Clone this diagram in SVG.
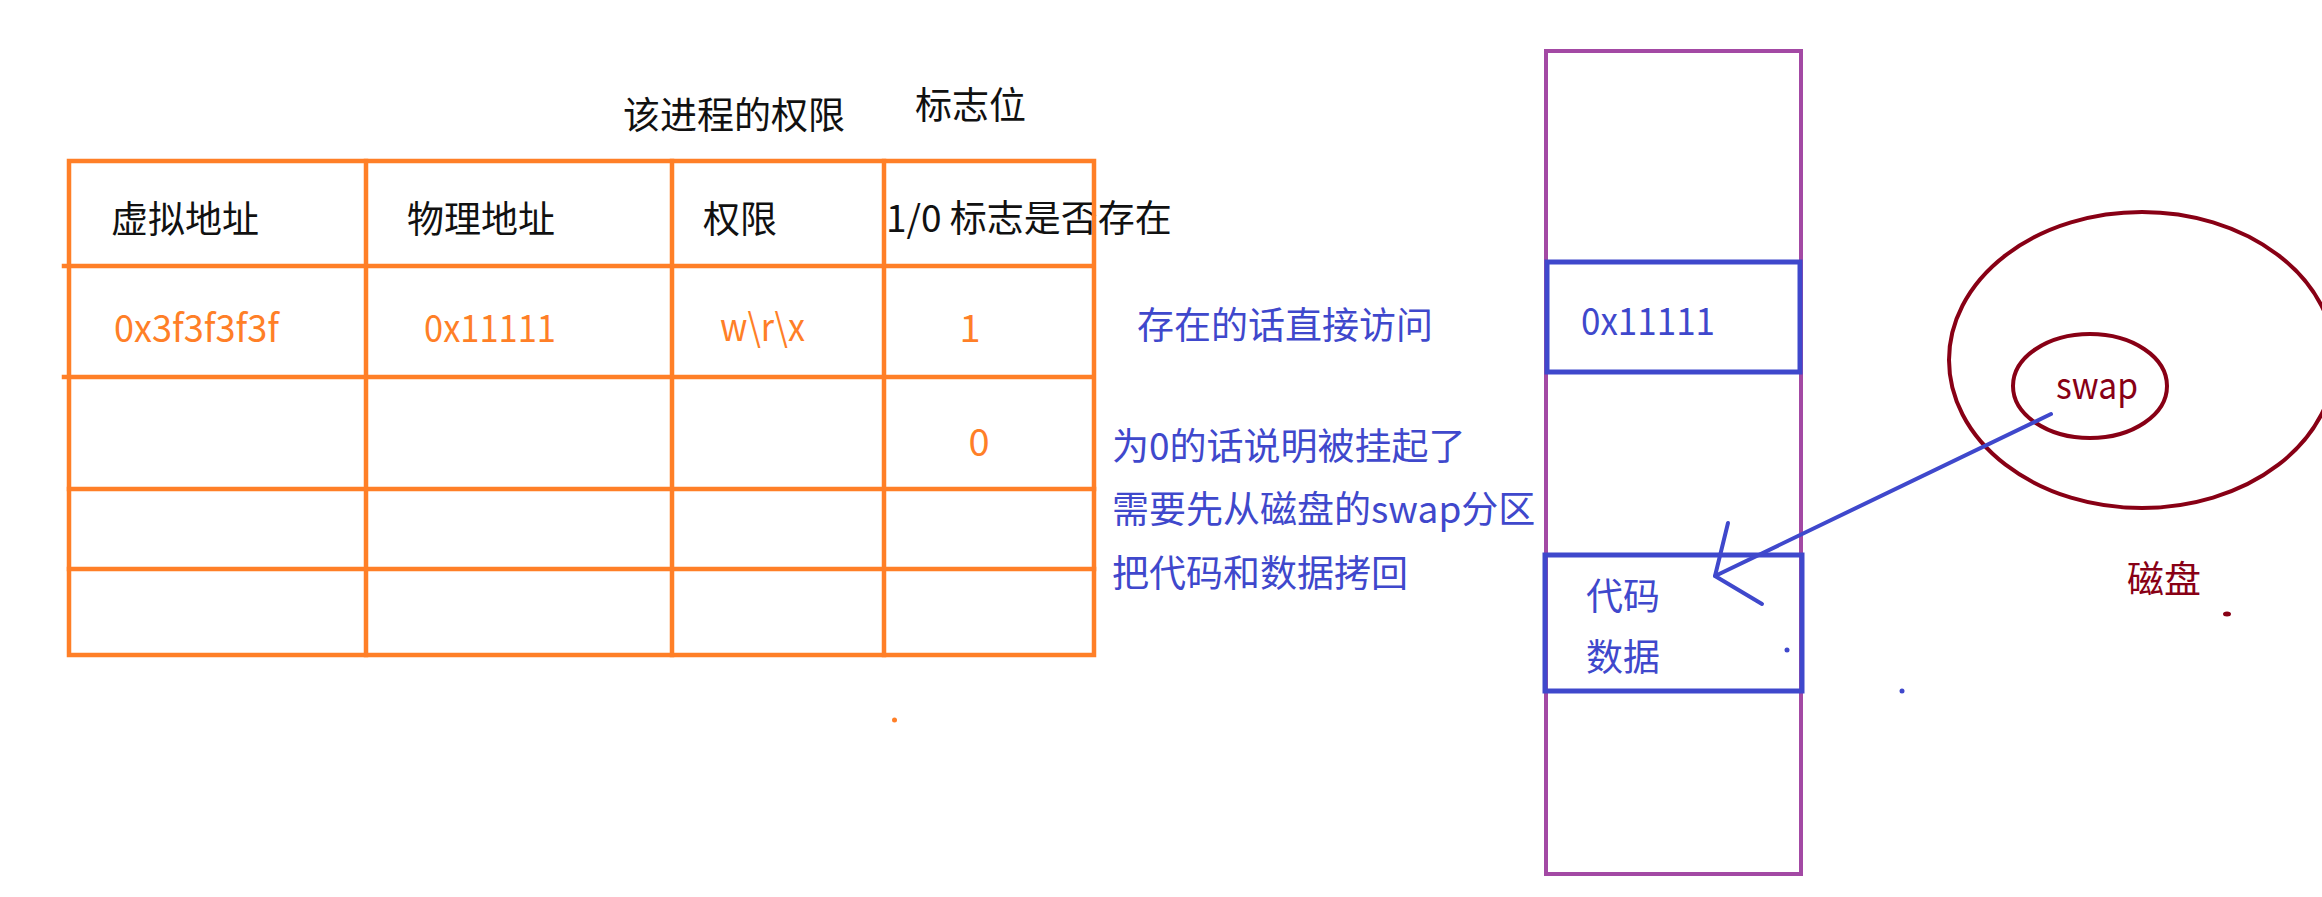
<svg xmlns="http://www.w3.org/2000/svg" width="2322" height="897" viewBox="0 0 2322 897">
<style>
.t{font-family:"Noto Sans CJK SC","Noto Sans",sans-serif;font-size:37px}
.l{font-size:38px}
.k{fill:#111}
.o{fill:#ff7f27}
.b{fill:#3f48cc}
.r{fill:#880015}
.ol{stroke:#ff7f27;stroke-width:4.5;fill:none;stroke-linecap:square}
.bl{stroke:#3f48cc;stroke-width:5;fill:none}
.rl{stroke:#880015;stroke-width:4;fill:none}
</style>
<rect width="2322" height="897" fill="#fff"/>
<g id="labels-top">
<text class="t k" x="623" y="129">该进程的权限</text>
<text class="t k" x="915" y="119">标志位</text>
</g>
<g id="table-header" class="t k">
<text x="111" y="233">虚拟地址</text>
<text x="407" y="233">物理地址</text>
<text x="703" y="233">权限</text>
<text x="886" y="232">1/0 标志是否存在</text>
</g>
<g id="table-lines" class="ol">
<rect x="69" y="161" width="1025" height="494"/>
<line x1="366" y1="161" x2="366" y2="655"/>
<line x1="672" y1="161" x2="672" y2="655"/>
<line x1="884" y1="161" x2="884" y2="655"/>
<line x1="64" y1="266" x2="1092" y2="266"/>
<line x1="64" y1="377" x2="1092" y2="377"/>
<line x1="69" y1="489" x2="1094" y2="489"/>
<line x1="69" y1="569" x2="1094" y2="569"/>
</g>
<g id="table-row1" class="t l o">
<text x="114" y="342" textLength="165" lengthAdjust="spacingAndGlyphs">0x3f3f3f3f</text>
<text x="424" y="342" textLength="132" lengthAdjust="spacingAndGlyphs">0x11111</text>
<text x="720" y="341" textLength="85" lengthAdjust="spacingAndGlyphs">w\r\x</text>
<text x="970" y="342" text-anchor="middle">1</text>
</g>
<g id="table-row2" class="t l o">
<text x="979" y="456" text-anchor="middle">0</text>
</g>
<circle cx="894.5" cy="720" r="2.5" fill="#ff7f27"/>
<g id="notes" class="t b">
<text x="1137" y="339">存在的话直接访问</text>
<text x="1112" y="460">为0的话说明被挂起了</text>
<text x="1112" y="523">需要先从磁盘的swap分区</text>
<text x="1112" y="587">把代码和数据拷回</text>
</g>
<g id="memory">
<rect x="1546" y="51" width="255" height="823" fill="none" stroke="#a349a4" stroke-width="4"/>
</g>
<g id="page-0x11111">
<rect class="bl" x="1547" y="262" width="253" height="110"/>
<text class="t l b" x="1581" y="335" textLength="134" lengthAdjust="spacingAndGlyphs">0x11111</text>
</g>
<g id="page-code-data">
<rect class="bl" x="1545" y="555" width="257" height="136"/>
<text class="t b" x="1586" y="610">代码</text>
<text class="t b" x="1586" y="671">数据</text>
</g>
<circle cx="1787" cy="650" r="2.5" fill="#3f48cc"/>
<circle cx="1902" cy="691" r="2.5" fill="#3f48cc"/>
<g id="disk">
<ellipse class="rl" cx="2142" cy="360" rx="193" ry="148"/>
<text class="t r" x="2127" y="593">磁盘</text>
<ellipse cx="2227" cy="614" rx="4" ry="2.5" fill="#880015"/>
</g>
<g id="swap">
<ellipse class="rl" cx="2090" cy="386" rx="77" ry="52"/>
<text class="t r" style="font-size:37px" x="2056" y="399" textLength="82" lengthAdjust="spacingAndGlyphs">swap</text>
</g>
<g id="connectors" stroke="#3f48cc" stroke-width="4" fill="none" stroke-linecap="round" stroke-linejoin="round">
<line x1="2051" y1="414" x2="1715" y2="576"/>
<polyline points="1728,523 1715,576 1762,604"/>
</g>
</svg>
